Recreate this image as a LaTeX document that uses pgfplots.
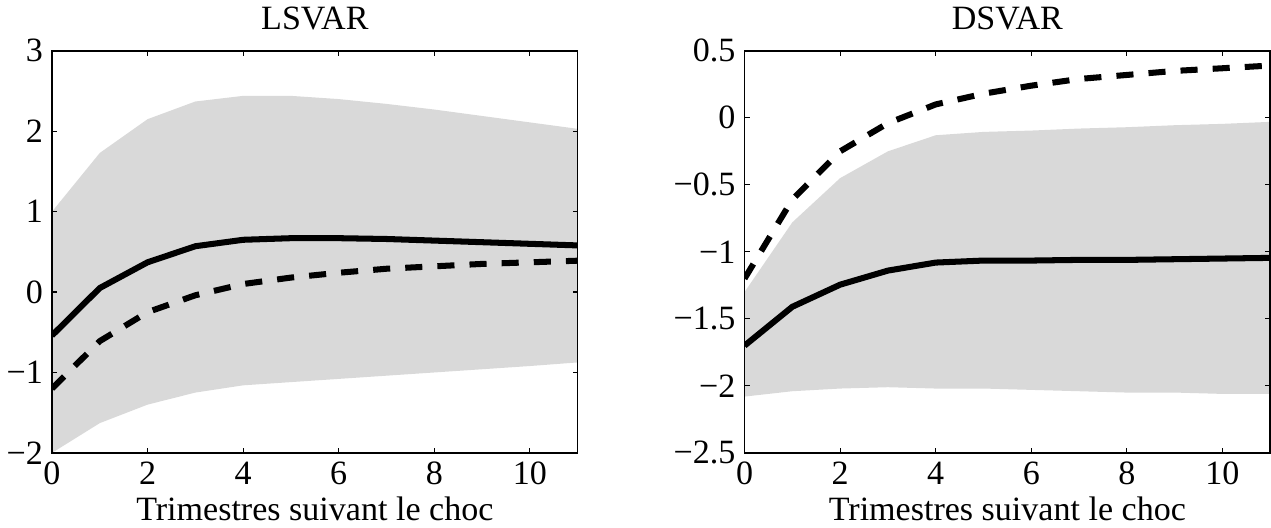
\documentclass[border=0pt]{standalone}
\usepackage{fontspec}
\setmainfont{Liberation Serif}
\usepackage{pgfplots}
\pgfplotsset{compat=1.18}
\usepgfplotslibrary{fillbetween}
\definecolor{bandgray}{RGB}{217,217,217}

\pgfplotsset{
  irf/.style={
    scale only axis,
    width=261.5bp, height=200bp,
    xmin=0, xmax=11,
    xtick={0,2,4,6,8,10},
    tick align=inside,
    major tick length=2.5bp,
    axis line style={line width=0.8bp},
    every tick/.style={line width=0.6bp, black},
    tick label style={font=\fontsize{17}{17}\selectfont},
    /pgf/number format/assume math mode=true,
    xticklabel style={yshift=-1bp},
    yticklabel style={xshift=-1bp},
    xlabel={Trimestres suivant le choc},
    xlabel style={font=\fontsize{17}{17}\selectfont, yshift=1bp},
    title style={font=\fontsize{17}{17}\selectfont, yshift=1bp},
    axis on top,
  },
  irfline/.style={black, line width=3bp},
  irfdash/.style={black, line width=3bp, dash pattern=on 8.5bp off 7.5bp},
}

\begin{document}
\begin{tikzpicture}
% LSVAR
\begin{axis}[irf, at={(0,0)}, title={LSVAR},
  ymin=-2, ymax=3, ytick={-2,-1,0,1,2,3},
  yticklabels={−2,−1,0,1,2,3}]
\addplot[name path=up, draw=none] coordinates {
  (0,1.00) (1,1.73) (2,2.15) (3,2.37) (4,2.44) (5,2.44)
  (6,2.40) (7,2.34) (8,2.27) (9,2.19) (10,2.11) (11,2.03)};
\addplot[name path=lo, draw=none] coordinates {
  (0,-2.00) (1,-1.63) (2,-1.40) (3,-1.25) (4,-1.16) (5,-1.12)
  (6,-1.08) (7,-1.04) (8,-1.00) (9,-0.96) (10,-0.92) (11,-0.875)};
\addplot[bandgray] fill between[of=up and lo];
\addplot[irfline] coordinates {
  (0,-0.54) (1,0.05) (2,0.37) (3,0.57) (4,0.65) (5,0.67)
  (6,0.67) (7,0.66) (8,0.64) (9,0.62) (10,0.60) (11,0.58)};
\addplot[irfdash] coordinates {
  (0,-1.20) (1,-0.61) (2,-0.25) (3,-0.04) (4,0.10) (5,0.18)
  (6,0.24) (7,0.29) (8,0.32) (9,0.35) (10,0.37) (11,0.39)};
\end{axis}
% DSVAR
\begin{axis}[irf, at={(344.5bp,0)}, title={DSVAR},
  ymin=-2.5, ymax=0.5, ytick={-2.5,-2,-1.5,-1,-0.5,0,0.5},
  yticklabels={−2.5,−2,−1.5,−1,−0.5,0,0.5}]
\addplot[name path=up, draw=none] coordinates {
  (0,-1.30) (1,-0.78) (2,-0.45) (3,-0.25) (4,-0.13) (5,-0.105)
  (6,-0.095) (7,-0.08) (8,-0.07) (9,-0.055) (10,-0.045) (11,-0.03)};
\addplot[name path=lo, draw=none] coordinates {
  (0,-2.08) (1,-2.04) (2,-2.02) (3,-2.01) (4,-2.02) (5,-2.02)
  (6,-2.03) (7,-2.04) (8,-2.05) (9,-2.05) (10,-2.06) (11,-2.06)};
\addplot[bandgray] fill between[of=up and lo];
\addplot[irfline] coordinates {
  (0,-1.70) (1,-1.41) (2,-1.245) (3,-1.14) (4,-1.08) (5,-1.065)
  (6,-1.065) (7,-1.06) (8,-1.06) (9,-1.055) (10,-1.05) (11,-1.045)};
\addplot[irfdash] coordinates {
  (0,-1.20) (1,-0.61) (2,-0.25) (3,-0.04) (4,0.10) (5,0.18)
  (6,0.24) (7,0.29) (8,0.32) (9,0.35) (10,0.37) (11,0.39)};
\end{axis}
\end{tikzpicture}
\end{document}
